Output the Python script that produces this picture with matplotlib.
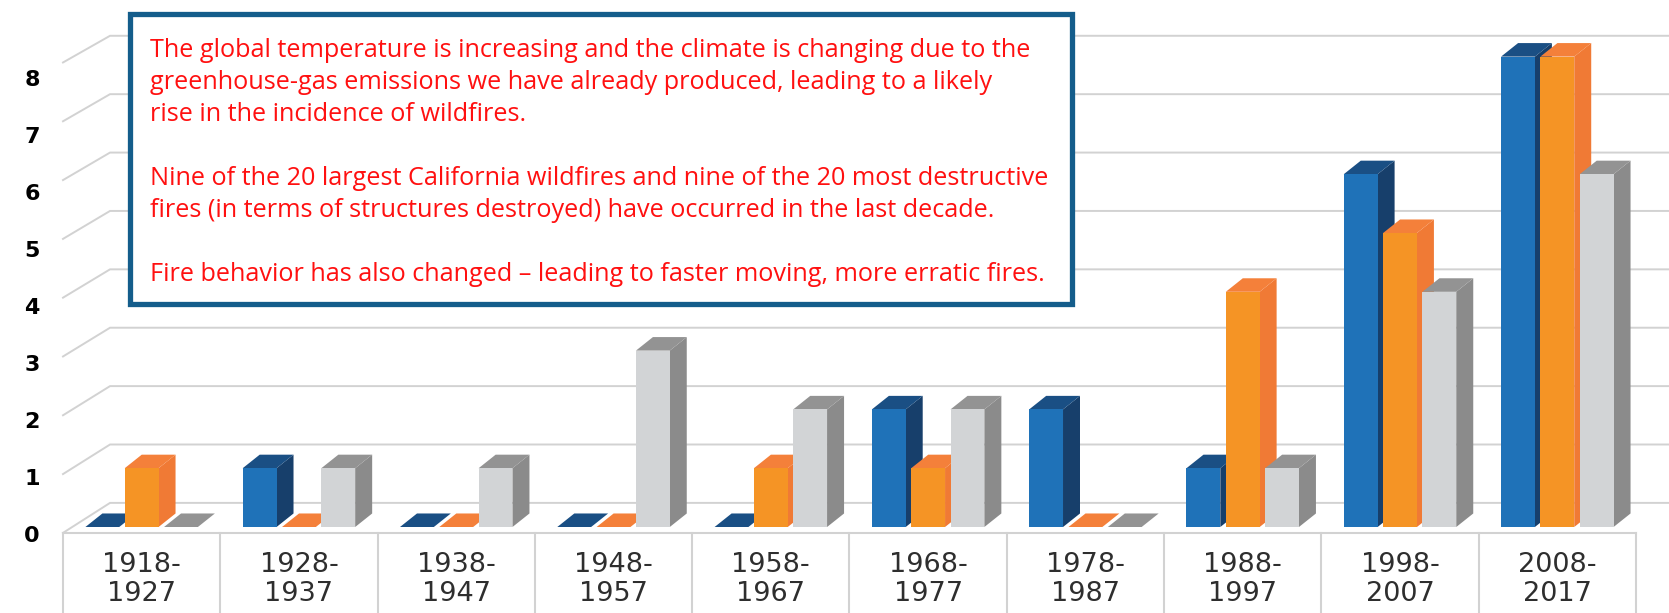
import matplotlib.pyplot as plt
from matplotlib.patches import Polygon, Rectangle

periods = ['1918-\n1927', '1928-\n1937', '1938-\n1947', '1948-\n1957', '1958-\n1967',
           '1968-\n1977', '1978-\n1987', '1988-\n1997', '1998-\n2007', '2008-\n2017']
blue_vals = [0, 1, 0, 0, 0, 2, 2, 1, 6, 8]
orange_vals = [1, 0, 0, 0, 1, 1, 0, 4, 5, 8]
grey_vals = [0, 1, 1, 3, 2, 2, 0, 1, 4, 6]
y_ticks = [0, 1, 2, 3, 4, 5, 6, 7, 8]

note_lines = [
    'The global temperature is increasing and the climate is changing due to the',
    'greenhouse-gas emissions we have already produced, leading to a likely',
    'rise in the incidence of wildfires.',
    '',
    'Nine of the 20 largest California wildfires and nine of the 20 most destructive',
    'fires (in terms of structures destroyed) have occurred in the last decade.',
    '',
    'Fire behavior has also changed \u2013 leading to faster moving, more erratic fires.',
]

# front, side, top colours
series = [
    (blue_vals, '#1f72b8', '#173f6b', '#1a4f84'),
    (orange_vals, '#f59425', '#f07a35', '#f4803a'),
    (grey_vals, '#d2d4d6', '#8b8b8b', '#939393'),
]

W, H = 1669, 613
fig = plt.figure(figsize=(W / 100, H / 100), dpi=100)
ax = fig.add_axes([0, 0, 1, 1])
ax.set_xlim(-0.4005, 10.21)
ax.set_ylim(-1.4626, 8.9626)
ax.axis('off')

n = len(periods)
grid_c = '#d2d2d2'

# back wall grid lines with the slanted left edge
for v in y_ticks:
    yb = v * 0.993 + 0.41
    ax.plot([0, 0.299, 10.3], [v - 0.10, yb, yb], color=grid_c, lw=1.4,
            zorder=1, solid_joinstyle='miter')

# category table under the floor
ax.plot([0, n], [-0.10, -0.10], color=grid_c, lw=1.5, zorder=2)
for i in range(n + 1):
    ax.plot([i, i], [-0.10, -1.6], color=grid_c, lw=1.5, zorder=2)
for i, lab in enumerate(periods):
    ax.text(i + 0.5, -0.90, lab, ha='center', va='center', fontsize=19.5,
            color='#2e2e2e', linespacing=1.15, family='DejaVu Sans')

# pseudo 3D bars
bw, pitch, dx, dy = 0.215, 0.25, 0.108, 0.23
for k, (vals, front, side, top) in enumerate(series):
    xs = [i + 0.5 + (k - 1) * pitch for i in range(n)]
    z = 3 + k
    for x, v in zip(xs, vals):
        x0, x1 = x - bw / 2, x + bw / 2
        ax.add_patch(Polygon([(x1, 0), (x1, v), (x1 + dx, v + dy), (x1 + dx, dy)],
                             closed=True, facecolor=side, edgecolor='none', zorder=z))
        ax.add_patch(Polygon([(x0, v), (x0 + dx, v + dy), (x1 + dx, v + dy), (x1, v)],
                             closed=True, facecolor=top, edgecolor='none', zorder=z))
    ax.bar(xs, vals, width=bw, color=front, zorder=z)

# y tick labels
for v in y_ticks:
    ax.text(-0.197, v * 0.97 - 0.15, str(v), ha='center', va='center',
            fontsize=16, fontweight='heavy', color='black', family='DejaVu Sans')

# annotation box
fig.patches.append(Rectangle((129.5 / W, 1 - 304 / H), (1072 - 129.5) / W, (304 - 14) / H,
                             transform=fig.transFigure, facecolor='white',
                             edgecolor='#145d8b', lw=3.8, zorder=10))
for j, line in enumerate(note_lines):
    if line:
        fig.text(150 / W, 1 - (57 + 32 * j) / H, line, ha='left', va='baseline',
                 fontsize=18.2, color='#ff1010', family='Open Sans', zorder=11)

fig.savefig('out.png', dpi=100)
